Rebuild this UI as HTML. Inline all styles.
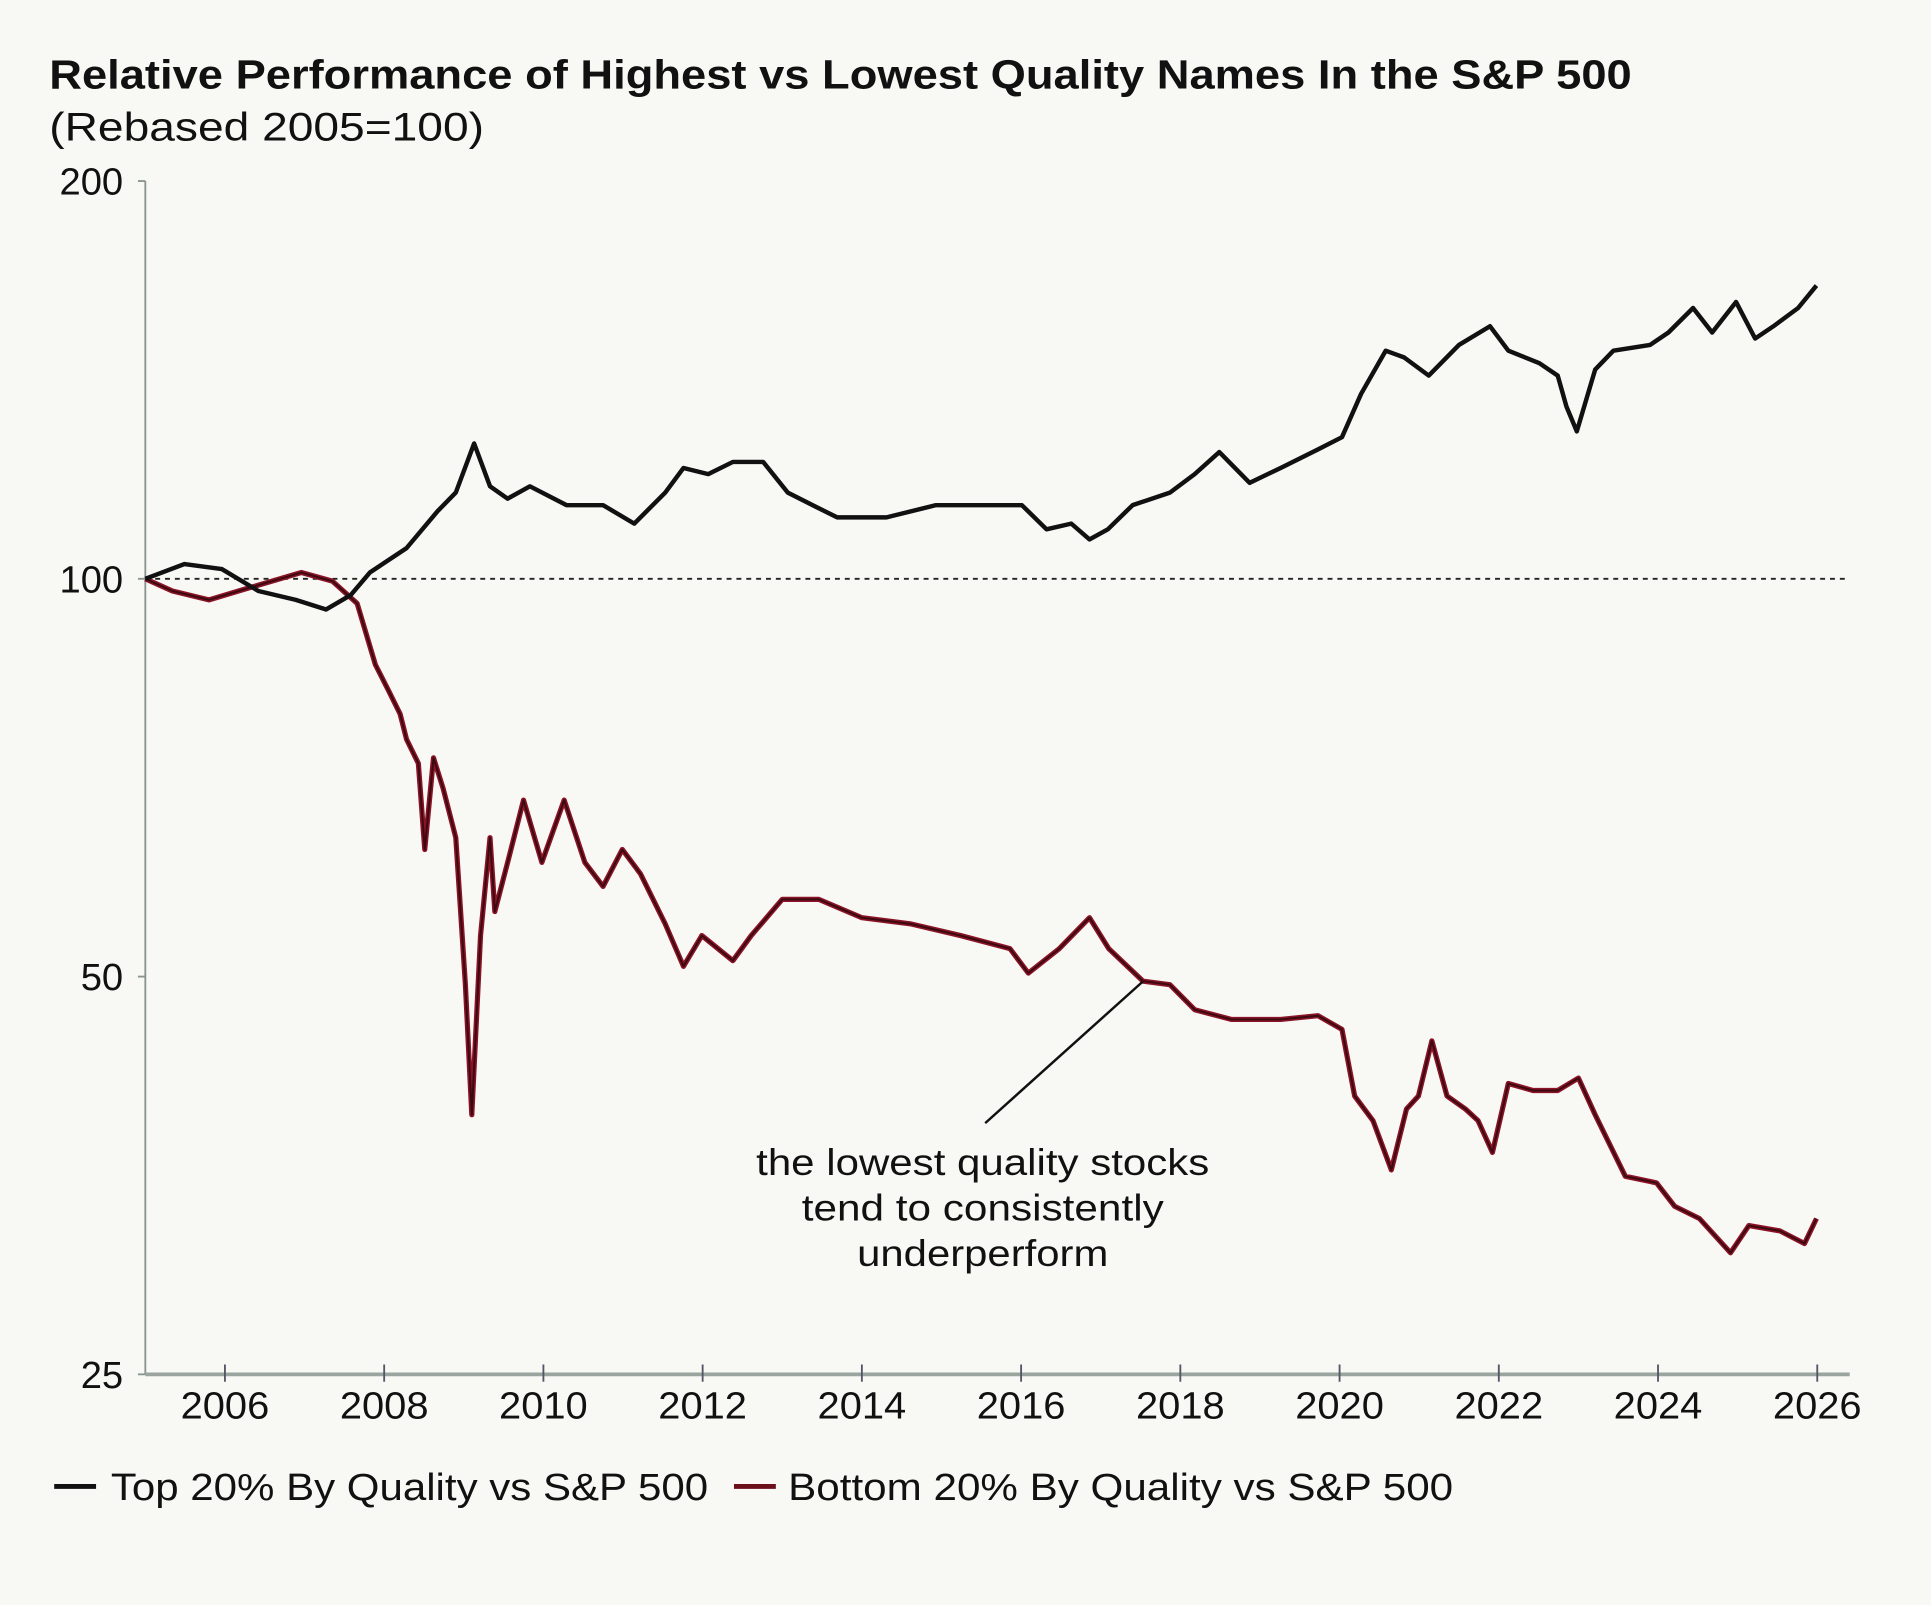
<!DOCTYPE html>
<html><head><meta charset="utf-8">
<style>
html,body{margin:0;padding:0;background:#f8f8f5;}
svg{display:block;}
text{font-family:"Liberation Sans",sans-serif;fill:#111;}
</style></head>
<body>
<svg id="chart" width="1931" height="1605" viewBox="0 0 1568 1303.3" xmlns="http://www.w3.org/2000/svg">
<rect x="0" y="0" width="1568" height="1303.3" fill="#f8f8f5"/>
<text x="40" y="72" font-size="33" font-weight="bold" textLength="1285" lengthAdjust="spacingAndGlyphs">Relative Performance of Highest vs Lowest Quality Names In the S&amp;P 500</text>
<text x="40" y="114" font-size="32" textLength="353" lengthAdjust="spacingAndGlyphs">(Rebased 2005=100)</text>
<g id="axes"></g>
<g id="series"></g>
<line x1="800" y1="912" x2="928" y2="797" stroke="#111" stroke-width="2"/>
<g font-size="30" text-anchor="middle">
<text x="798" y="954" textLength="368" lengthAdjust="spacingAndGlyphs">the lowest quality stocks</text>
<text x="798" y="991" textLength="294" lengthAdjust="spacingAndGlyphs">tend to consistently</text>
<text x="798" y="1028" textLength="204" lengthAdjust="spacingAndGlyphs">underperform</text>
</g>
<g>
<line x1="44" y1="1207" x2="78" y2="1207" stroke="#111" stroke-width="4"/>
<text x="90" y="1218" font-size="31" textLength="485" lengthAdjust="spacingAndGlyphs">Top 20% By Quality vs S&amp;P 500</text>
<line x1="596" y1="1207" x2="630" y2="1207" stroke="#6b0f1a" stroke-width="4"/>
<text x="640" y="1218" font-size="31" textLength="540" lengthAdjust="spacingAndGlyphs">Bottom 20% By Quality vs S&amp;P 500</text>
</g>
</svg>
<script>
const yTicks = [200, 100, 50, 25];
const xTicks = [2006, 2008, 2010, 2012, 2014, 2016, 2018, 2020, 2022, 2024, 2026];
const topYears = [2005.00,2005.49,2005.96,2006.42,2006.89,2007.27,2007.58,2007.82,2008.28,2008.67,2008.90,2009.13,2009.33,2009.55,2009.83,2010.29,2010.75,2011.14,2011.53,2011.76,2012.07,2012.38,2012.76,2013.07,2013.38,2013.69,2014.31,2014.93,2015.55,2016.01,2016.32,2016.63,2016.86,2017.09,2017.40,2017.87,2018.18,2018.49,2018.87,2019.26,2019.73,2020.03,2020.27,2020.58,2020.81,2021.12,2021.50,2021.89,2022.12,2022.51,2022.74,2022.85,2022.98,2023.21,2023.44,2023.90,2024.13,2024.44,2024.68,2024.98,2025.22,2025.45,2025.76,2025.99];
const topValues = [100,102.6,101.7,97.9,96.4,94.8,97.2,101.1,105.5,112.5,116.2,126.6,117.5,115.0,117.5,113.7,113.7,110.1,116.2,121.3,120.0,122.6,122.6,116.2,113.7,111.3,111.3,113.7,113.7,113.7,109.0,110.1,107.1,109.0,113.7,116.2,120.0,124.7,118.2,121.3,125.3,128.0,138.0,148.8,147.1,142.5,150.3,155.3,148.8,145.6,142.5,135.0,129.3,144.0,148.8,150.3,153.6,160.3,153.6,162.0,152.0,155.3,160.3,166.7];
const botYears = [2005.00,2005.34,2005.80,2006.27,2006.96,2007.35,2007.66,2007.89,2008.05,2008.20,2008.28,2008.43,2008.51,2008.62,2008.74,2008.90,2009.02,2009.10,2009.21,2009.33,2009.39,2009.55,2009.75,2009.98,2010.26,2010.52,2010.75,2010.99,2011.22,2011.53,2011.76,2011.99,2012.38,2012.61,2013.00,2013.46,2014.00,2014.62,2015.24,2015.86,2016.09,2016.48,2016.86,2017.10,2017.53,2017.87,2018.18,2018.64,2019.26,2019.73,2020.03,2020.19,2020.42,2020.65,2020.84,2020.99,2021.16,2021.35,2021.58,2021.74,2021.92,2022.12,2022.43,2022.74,2023.00,2023.21,2023.59,2023.98,2024.21,2024.52,2024.91,2025.14,2025.53,2025.84,2025.99];
const botValues = [100,97.9,96.4,98.3,101.1,99.6,95.8,86.1,82.4,79.0,75.6,72.5,62.4,73.2,69.4,63.7,49.3,39.3,53.7,63.7,56.0,61.0,68.0,61.0,68.0,61.0,58.5,62.4,59.8,54.8,50.9,53.7,51.4,53.7,57.2,57.2,55.4,54.8,53.7,52.5,50.3,52.5,55.4,52.5,49.6,49.3,47.2,46.4,46.4,46.7,45.6,40.6,38.9,35.7,39.7,40.6,44.7,40.6,39.7,38.9,36.8,41.5,41.0,41.0,41.9,39.3,35.3,34.9,33.5,32.8,30.9,32.4,32.1,31.4,32.8];

const NS = 'http://www.w3.org/2000/svg';
const X0 = 118, Y100 = 470, PERDBL = 323;
function xs(yr){ return X0 + (yr - 2005) * 64.65; }
function ys(v){ return Y100 - Math.log2(v / 100) * PERDBL; }
function mk(tag, attrs, parent){ const e = document.createElementNS(NS, tag); for (const k in attrs) e.setAttribute(k, attrs[k]); parent.appendChild(e); return e; }
const axes = document.getElementById('axes');
const series = document.getElementById('series');

const yl = mk('line', {x1:X0, y1:ys(200), x2:X0, y2:ys(25), stroke:'#8a9590', 'stroke-width':1.5}, axes);


const xl = mk('line', {x1:X0, y1:ys(25), x2:1502, y2:ys(25), stroke:'#9aa59f', 'stroke-width':3}, axes);


const ref = mk('line', {x1:X0, y1:ys(100), x2:1500, y2:ys(100), stroke:'#222', 'stroke-width':1.5, 'stroke-dasharray':'4 4'}, axes);



yTicks.forEach(v => {
  const tk = mk('line', {x1:X0-6, y1:ys(v), x2:X0, y2:ys(v), stroke:'#8a9590', 'stroke-width':1.5}, axes);
  
  
  const t = mk('text', {x:X0-18, y:ys(v)+11, 'font-size':31, 'text-anchor':'end'}, axes);
  t.textContent = v;
  
  
});
xTicks.forEach(yr => {
  const tk = mk('line', {x1:xs(yr), y1:ys(25)-8, x2:xs(yr), y2:ys(25)+6, stroke:'#556', 'stroke-width':1.5}, axes);
  
  
  const t = mk('text', {x:xs(yr), y:1152, 'font-size':31, 'text-anchor':'middle', textLength:72, lengthAdjust:'spacingAndGlyphs'}, axes);
  t.textContent = yr;
  
  
});

function pathD(years, vals){ return years.map((y,i)=>(i?'L':'M')+xs(y).toFixed(1)+' '+ys(vals[i]).toFixed(1)).join(' '); }
const pb = mk('path', {d:pathD(botYears, botValues), fill:'none', stroke:'#8b1326', 'stroke-width':4.2, 'stroke-linejoin':'round'}, series);


const pb2 = mk('path', {d:pathD(botYears, botValues), fill:'none', stroke:'#3a0a10', 'stroke-width':1.6, 'stroke-linejoin':'round'}, series);


const pt = mk('path', {d:pathD(topYears, topValues), fill:'none', stroke:'#111', 'stroke-width':3.6, 'stroke-linejoin':'round'}, series);


</script>
</body></html>
